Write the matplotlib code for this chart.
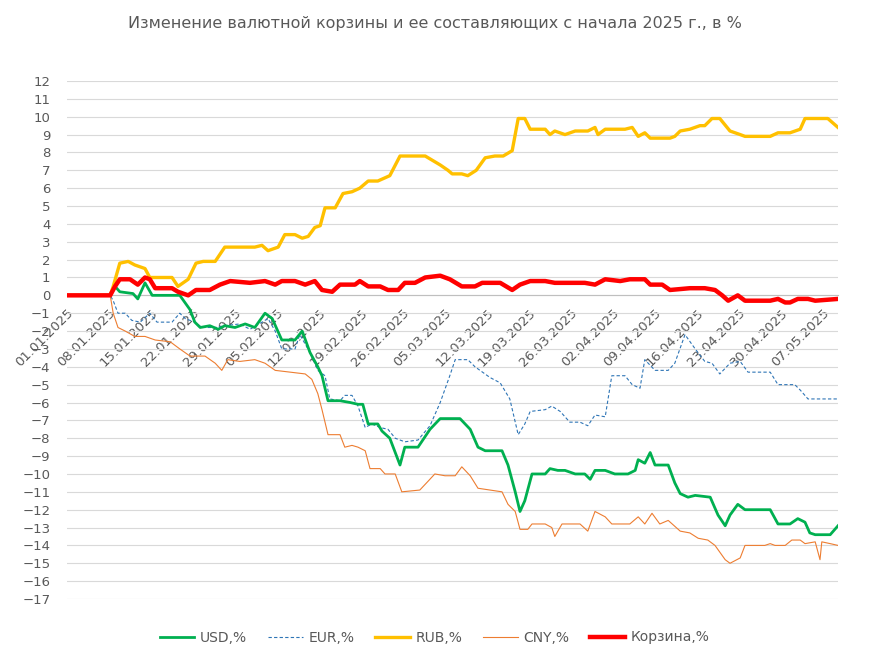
import datetime as dt
import matplotlib.pyplot as plt

start = dt.date(2025, 1, 1)

# day offsets from 01.01.2025 and values, %
rub_d = [0, 7.2, 7.7, 8.8, 10.2, 11.3, 13, 13.8, 17.5, 18.5, 20.2, 21.5, 22.7, 24.7, 26.3, 28.8, 31.3, 32.5, 33.5,
         35.2, 36.3, 38, 39.2, 40.2, 41.3, 42.2, 43, 44.7, 46, 47.5, 48.8, 50.2, 51.8, 53.8, 55.5, 58, 59.7, 62.2,
         63.5, 64.2, 65.8, 66.8, 68.2, 69.7, 71.3, 72.7, 74.2, 75.2, 76.3, 77.2, 79.7, 80.5, 81.3, 83, 84.7, 86.8,
         88, 88.5, 89.7, 93, 94.2, 95.2, 96.3, 97.2, 100.5, 101.3, 102.2, 103.8, 105.5, 106.3, 107.5, 108.8, 110.5,
         112.2, 113, 117.2, 118.5, 120.5, 122.2, 123, 126.8, 128.5]
rub_v = [0, 0, 0.5, 1.8, 1.9, 1.7, 1.5, 1.0, 1.0, 0.5, 0.9, 1.8, 1.9, 1.9, 2.7, 2.7, 2.7, 2.8, 2.5,
         2.7, 3.4, 3.4, 3.2, 3.3, 3.8, 3.9, 4.9, 4.9, 5.7, 5.8, 6.0, 6.4, 6.4, 6.7, 7.8, 7.8, 7.8, 7.3,
         7.0, 6.8, 6.8, 6.7, 7.0, 7.7, 7.8, 7.8, 8.1, 9.9, 9.9, 9.3, 9.3, 9.0, 9.2, 9.0, 9.2, 9.2,
         9.4, 9.0, 9.3, 9.3, 9.4, 8.9, 9.1, 8.8, 8.8, 8.9, 9.2, 9.3, 9.5, 9.5, 9.9, 9.9, 9.2,
         9.0, 8.9, 8.9, 9.1, 9.1, 9.3, 9.9, 9.9, 9.4]

bask_d = [0, 7.2, 8, 8.8, 10.5, 11.8, 13, 13.8, 14.7, 17.5, 18.5, 20.2, 21.5, 23.8, 25.5, 27.2, 30.5, 33, 34.7,
          35.8, 38, 39.7, 41.3, 42.5, 44.2, 45.5, 48, 48.8, 50.2, 52.2, 53.5, 55.2, 56.3, 58, 59.7, 62.2, 63.8,
          65.8, 68, 69.2, 72.2, 74.2, 75.5, 77.2, 79.7, 81.3, 83.8, 86.3, 88, 89.7, 92.2, 93.8, 96.3, 97.2,
          99.2, 100.5, 103.8, 106.3, 108, 109.2, 110.2, 111.8, 113, 117.2, 118.5, 119.7, 120.5, 121.8, 123.5,
          124.7, 128.5]
bask_v = [0, 0, 0.5, 0.9, 0.9, 0.6, 1.0, 0.9, 0.4, 0.4, 0.2, 0.0, 0.3, 0.3, 0.6, 0.8, 0.7, 0.8, 0.6,
          0.8, 0.8, 0.6, 0.8, 0.3, 0.2, 0.6, 0.6, 0.8, 0.5, 0.5, 0.3, 0.3, 0.7, 0.7, 1.0, 1.1, 0.9,
          0.5, 0.5, 0.7, 0.7, 0.3, 0.6, 0.8, 0.8, 0.7, 0.7, 0.7, 0.6, 0.9, 0.8, 0.9, 0.9, 0.6,
          0.6, 0.3, 0.4, 0.4, 0.3, 0.0, -0.3, 0.0, -0.3, -0.3, -0.2, -0.4, -0.4, -0.2, -0.2,
          -0.3, -0.2]

usd_d = [0, 7.2, 8, 8.8, 11, 11.8, 13, 14.2, 18, 18.8, 20.5, 21.3, 22.2, 23.8, 25.2, 26.3, 28, 29.7, 31.3,
         33, 34.2, 35.8, 38, 39.2, 40.5, 41.8, 42.5, 43.5, 45.5, 47.2, 48.5, 49.3, 50.2, 51.8, 52.5, 53.8, 55.5,
         56.3, 58.5, 60.5, 62.2, 63, 65.5, 67.2, 68.5, 69.7, 72.5, 73.5, 74.7, 75.5, 76.3, 77.5, 79.7, 80.5,
         81.8, 83, 84.7, 86.3, 87.2, 88, 89.7, 91.3, 93.5, 94.7, 95.2, 96.3, 97.2, 98, 100.2, 101.3, 102.2,
         103.5, 104.7, 107.2, 108.5, 109.7, 110.5, 111.8, 113, 117.2, 118.5, 120.5, 121.8, 123, 123.8, 124.7,
         127.2, 128.5]
usd_v = [0, 0, 0.5, 0.2, 0.1, -0.2, 0.7, 0.0, 0.0, 0.0, -0.8, -1.5, -1.8, -1.7, -1.9, -1.7, -1.8, -1.6, -1.8,
         -1.0, -1.3, -2.5, -2.5, -2.0, -3.2, -4.0, -4.5, -5.9, -5.9, -6.0, -6.1, -6.1, -7.2, -7.2, -7.6, -8.0, -9.5,
         -8.5, -8.5, -7.5, -6.9, -6.9, -6.9, -7.5, -8.5, -8.7, -8.7, -9.5, -11.0, -12.1, -11.5, -10.0, -10.0, -9.7,
         -9.8, -9.8, -10.0, -10.0, -10.3, -9.8, -9.8, -10.0, -10.0, -9.8, -9.2, -9.4, -8.8, -9.5, -9.5, -10.5, -11.1,
         -11.3, -11.2, -11.3, -12.3, -12.9, -12.3, -11.7, -12.0, -12.0, -12.8, -12.8, -12.5, -12.7, -13.3, -13.4,
         -13.4, -12.9]

eur_d = [0, 7.2, 7.7, 8.5, 9.7, 10.8, 12.2, 13.8, 15, 17.5, 18.8, 19.7, 21.3, 22.5, 24.7, 26.3, 28.8, 30.5, 32.5,
         33.5, 34.7, 35.8, 38, 38.8, 40.5, 41.8, 43, 43.8, 45.5, 46.3, 47.5, 48.5, 49.7, 50.8, 52.2, 53.5, 54.7,
         56.3, 58.5, 60.5, 62.2, 63.8, 64.7, 66.8, 68, 70.5, 72.2, 73.8, 75.2, 76.3, 77.2, 79.7, 80.8, 82.2, 83.8,
         85.5, 86.8, 88, 89.7, 90.8, 93, 94.2, 95.5, 96.3, 98, 100.2, 101.3, 103, 104.7, 106.3, 107.5, 108.8,
         110.5, 112.2, 113.5, 117.2, 118.5, 121.3, 122.2, 123.5, 124.7, 128.5]
eur_v = [0, 0, -0.3, -1.0, -1.0, -1.4, -1.5, -1.0, -1.5, -1.5, -1.0, -1.3, -1.5, -1.8, -1.8, -1.7, -1.6, -1.9, -1.5,
         -1.3, -2.0, -3.0, -3.0, -2.2, -3.2, -4.2, -4.5, -5.8, -5.9, -5.6, -5.6, -6.2, -7.4, -7.2, -7.4, -7.5, -8.0,
         -8.2, -8.1, -7.3, -6.0, -4.5, -3.6, -3.6, -4.0, -4.6, -4.9, -5.8, -7.8, -7.2, -6.5, -6.4, -6.2, -6.5, -7.1,
         -7.1, -7.3, -6.7, -6.8, -4.5, -4.5, -5.0, -5.2, -3.6, -4.2, -4.2, -3.8, -2.2, -3.0, -3.7, -3.8, -4.4,
         -3.8, -3.7, -4.3, -4.3, -5.0, -5.0, -5.3, -5.8, -5.8, -5.8]

cny_d = [0, 7.2, 7.7, 8.5, 9.7, 11.3, 13, 14.7, 17.2, 18.8, 20.5, 23, 24.7, 25.8, 26.8, 28.8, 31.3, 33, 34.7,
         37.2, 39.7, 40.8, 41.8, 42.5, 43.5, 45.5, 46.3, 47.5, 48.5, 49.7, 50.5, 52.2, 53, 54.7, 55.8, 58.8,
         60.2, 61.3, 63, 64.7, 65.8, 67.2, 68.5, 70.5, 72.5, 73.5, 74.7, 75.5, 76.8, 77.5, 79.7, 80.8, 81.3,
         82.5, 85.5, 86.8, 88, 89.7, 90.8, 93.8, 95.2, 96.3, 97.5, 98.8, 100.2, 102.2, 103.8, 105.2, 106.8,
         108, 109.7, 110.5, 112.2, 113, 116.3, 117.2, 118, 119.7, 120.8, 122.2, 123, 124.7, 125.5, 125.8,
         127.2, 128.5]
cny_v = [0, 0, -1.0, -1.8, -2.0, -2.3, -2.3, -2.5, -2.6, -3.0, -3.4, -3.4, -3.8, -4.2, -3.6, -3.7, -3.6, -3.8, -4.2,
         -4.3, -4.4, -4.7, -5.5, -6.4, -7.8, -7.8, -8.5, -8.4, -8.5, -8.7, -9.7, -9.7, -10.0, -10.0, -11.0, -10.9,
         -10.4, -10.0, -10.1, -10.1, -9.6, -10.1, -10.8, -10.9, -11.0, -11.7, -12.1, -13.1, -13.1, -12.8, -12.8, -13.0, -13.5,
         -12.8, -12.8, -13.2, -12.1, -12.4, -12.8, -12.8, -12.4, -12.8, -12.2, -12.8, -12.6, -13.2, -13.3, -13.6, -13.7,
         -14.0, -14.8, -15.0, -14.7, -14.0, -14.0, -13.9, -14.0, -14.0, -13.7, -13.7, -13.9, -13.8, -14.8, -13.8,
         -13.9, -14.0]

week_ticks = list(range(0, 127, 7))
tick_labels = [(start + dt.timedelta(days=d)).strftime('%d.%m.%Y') for d in week_ticks]

fig = plt.figure(figsize=(8.69, 6.57), dpi=100)
ax = fig.add_axes([67 / 869, 58 / 657, (838 - 67) / 869, 518 / 657])

gray = '#595959'
ax.plot(usd_d, usd_v, color='#00b050', lw=2.0, label='USD,%', zorder=5)
ax.plot(eur_d, eur_v, color='#2e75b6', lw=0.8, ls=(0, (3, 2)), label='EUR,%', zorder=4)
ax.plot(rub_d, rub_v, color='#ffc000', lw=2.4, label='RUB,%', zorder=5)
ax.plot(cny_d, cny_v, color='#ed7d31', lw=0.8, label='CNY,%', zorder=4)
ax.plot(bask_d, bask_v, color='#ff0000', lw=3.2, label='Корзина,%', zorder=6)

ax.set_xlim(0, 128.5)
ax.set_ylim(-17, 12)
ax.set_yticks(range(-17, 13))
ax.grid(axis='y', color='#d9d9d9', lw=0.8)
ax.set_axisbelow(True)
for s in ['top', 'right', 'left']:
    ax.spines[s].set_visible(False)
ax.spines['bottom'].set_position(('data', 0))
ax.spines['bottom'].set_color('#bfbfbf')
ax.spines['bottom'].set_zorder(3)
ax.set_xticks(week_ticks)
ax.set_xticklabels(tick_labels, rotation=45, ha='right', rotation_mode='anchor')
ax.tick_params(axis='x', length=0, labelsize=9.5, labelcolor=gray, pad=8)
ax.tick_params(axis='y', length=0, labelsize=9.5, labelcolor=gray, pad=12)

fig.suptitle('Изменение валютной корзины и ее составляющих с начала 2025 г., в %',
             y=0.975, fontsize=11.5, color=gray)
fig.legend(loc='lower center', ncol=5, frameon=False, bbox_to_anchor=(0.5, 0.0),
           fontsize=10, labelcolor=gray, handlelength=2.5, columnspacing=1.5, handletextpad=0.4)

plt.savefig('out.png', dpi=100)
